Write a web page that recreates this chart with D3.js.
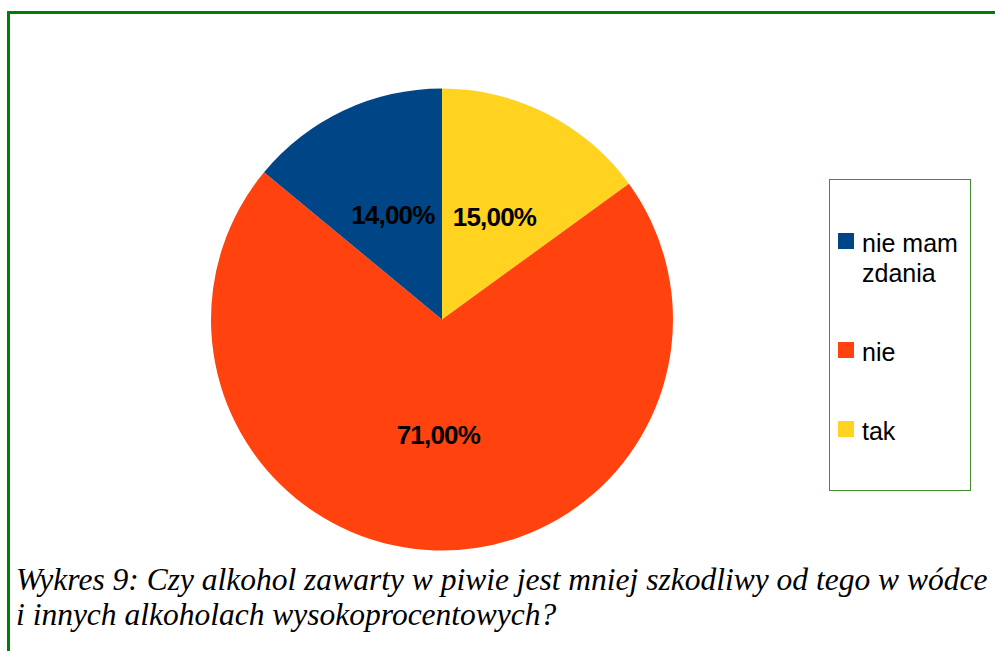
<!DOCTYPE html>
<html>
<head>
<meta charset="utf-8">
<script src="https://cdn.jsdelivr.net/npm/d3@7"></script>
<style>
  body { margin: 0; background: #fff; }
  svg { display: block; }
</style>
</head>
<body>
<div id="graph"></div>
<script>
// pie goes clockwise from 12 o'clock in this order
var categories = ["tak", "nie", "nie mam zdania"];
var values = [15, 71, 14];
var colors = ["#ffd320", "#ff420e", "#004586"];
// legend lists them the other way round
var legendOrder = ["nie mam zdania", "nie", "tak"];
var legendLines = { "nie mam zdania": ["nie mam", "zdania"], "nie": ["nie"], "tak": ["tak"] };
var caption = [
  "Wykres 9: Czy alkohol zawarty w piwie jest mniej szkodliwy od tego w wódce",
  "i innych alkoholach wysokoprocentowych?"
];

var width = 995, height = 651;
var cx = 442, cy = 319.5, r = 231;

var svg = d3.select("#graph").append("svg")
  .attr("width", width)
  .attr("height", height);

// outer green frame (runs past right and bottom edges)
svg.append("rect")
  .attr("x", 8.5).attr("y", 12.5)
  .attr("width", 1100).attr("height", 1000)
  .attr("fill", "none")
  .attr("stroke", "#008000")
  .attr("stroke-width", 3);

var data = categories.map(function (c, i) {
  return { name: c, value: values[i], color: colors[i] };
});

var pie = d3.pie().sort(null).value(function (d) { return d.value; });
var arc = d3.arc().innerRadius(0).outerRadius(r);
var fmt = function (v) { return d3.format(".2f")(v).replace(".", ",") + "%"; };

var g = svg.append("g").attr("transform", "translate(" + cx + "," + cy + ")");
var arcs = pie(data);

g.selectAll("path.slice")
  .data(arcs)
  .join("path")
  .attr("class", "slice")
  .attr("d", arc)
  .attr("fill", function (d) { return d.data.color; });

g.selectAll("text.lbl")
  .data(arcs)
  .join("text")
  .attr("class", "lbl")
  .attr("transform", function (d) { return "translate(" + arc.centroid(d) + ")"; })
  .attr("text-anchor", "middle")
  .attr("dy", "0.36em")
  .attr("font-family", "Liberation Sans, Arial, sans-serif")
  .attr("font-weight", "bold")
  .attr("font-size", 26)
  .attr("letter-spacing", -0.8)
  .attr("fill", "#000")
  .text(function (d) { return fmt(d.data.value); });

// legend
var legend = svg.append("g");
legend.append("rect")
  .attr("x", 829.5).attr("y", 179.5)
  .attr("width", 141).attr("height", 311)
  .attr("fill", "#fff")
  .attr("stroke", "#3f8f2f")
  .attr("stroke-width", 1);

// each entry takes its lines plus a gap
var lineH = 30, gap = 49, legendTop = 233;
var itemTop = {};
legendOrder.reduce(function (y, d) {
  itemTop[d] = y;
  return y + legendLines[d].length * lineH + gap;
}, legendTop);

var items = legend.selectAll("g.item")
  .data(legendOrder)
  .join("g")
  .attr("class", "item")
  .attr("transform", function (d) { return "translate(838," + itemTop[d] + ")"; });

items.append("rect")
  .attr("width", 16).attr("height", 16)
  .attr("fill", function (d) { return colors[categories.indexOf(d)]; });

items.append("text")
  .attr("x", 24)
  .attr("font-family", "Liberation Sans, Arial, sans-serif")
  .attr("font-size", 25)
  .attr("fill", "#000")
  .selectAll("tspan")
  .data(function (d) { return legendLines[d]; })
  .join("tspan")
  .attr("x", 24)
  .attr("y", function (d, i) { return 19 + i * lineH; })
  .text(function (d) { return d; });

// caption
svg.selectAll("text.cap")
  .data(caption)
  .join("text")
  .attr("class", "cap")
  .attr("x", 16)
  .attr("y", function (d, i) { return 590 + i * 35; })
  .attr("font-family", "Liberation Serif, Times New Roman, serif")
  .attr("font-style", "italic")
  .attr("font-size", 31.5)
  .attr("fill", "#000")
  .text(function (d) { return d; });
</script>
</body>
</html>
